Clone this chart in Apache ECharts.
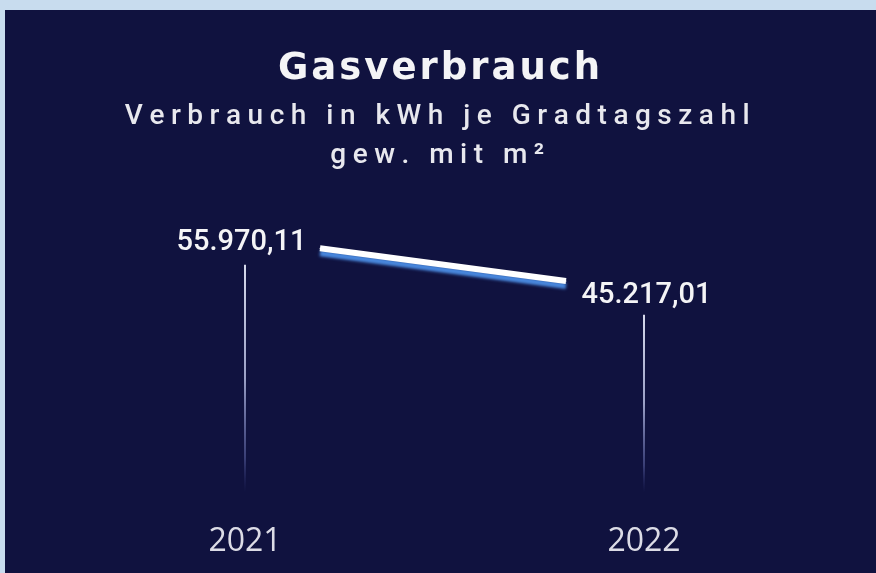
<!DOCTYPE html>
<html>
<head>
<meta charset="utf-8">
<title>Gasverbrauch</title>
<script src="https://cdn.jsdelivr.net/npm/echarts@6/dist/echarts.min.js"></script>
<style>
  html, body { margin: 0; padding: 0; background: #c8dcee; width: 876px; height: 573px; overflow: hidden; }
  #chart { position: absolute; left: 5px; top: 10px; width: 871px; height: 563px; }
</style>
</head>
<body>
<div id="chart"></div>
<script>
// Daten
const years = ['2021', '2022'];
const verbrauch = [55970.11, 45217.01];
const titel = 'Gasverbrauch';
const untertitel = ['Verbrauch in kWh je Gradtagszahl', 'gew. mit m²'];

// 55970.11 -> "55.970,11"
const formatDe = (v) => {
  const parts = v.toFixed(2).split('.');
  const int = parts[0].replace(/\B(?=(\d{3})+(?!\d))/g, '.');
  return int + ',' + parts[1];
};

// Sperrschrift: jedes Zeichen als eigener rich-Token mit etwas Abstand
const spaced = (s, key) => s.split('').map(ch => '{' + key + '|' + ch + '}').join('');

const subStyle = {
  fontWeight: 'normal',
  rich: {
    s: { color: '#e8e8ee', fontSize: 28, fontWeight: 500, fontFamily: 'Roboto', padding: [0, 6.5, 0, 0] }
  }
};

const chart = echarts.init(document.getElementById('chart'));

const options = {
  backgroundColor: '#10123f',
  animation: false,
  title: [
    {
      text: spaced(titel, 't'),
      left: 'center',
      top: 36,
      textStyle: {
        rich: {
          t: { color: '#f4f4f6', fontSize: 37, fontWeight: 'bold', fontFamily: 'DejaVu Sans', padding: [0, 3, 0, 0] }
        }
      }
    },
    {
      text: spaced(untertitel[0], 's'),
      left: 'center',
      top: 88,
      textStyle: subStyle
    },
    {
      text: spaced(untertitel[1], 's'),
      left: 'center',
      top: 127,
      textStyle: subStyle
    }
  ],
  grid: [
    // senkrechte Linien + Jahre
    { left: 240, right: 232, top: 236, bottom: 81 },
    // Verbrauchslinie
    { left: 315, right: 310, top: 226, height: 61 }
  ],
  xAxis: [
    {
      type: 'category',
      gridIndex: 0,
      data: years,
      boundaryGap: false,
      axisLine: { show: false },
      axisTick: { show: false },
      axisLabel: { color: '#dcdce6', fontSize: 32, fontFamily: 'Open Sans', margin: 34 }
    },
    {
      type: 'category',
      gridIndex: 1,
      data: years,
      boundaryGap: false,
      show: false
    }
  ],
  yAxis: [
    { type: 'value', gridIndex: 0, min: 7150, max: 60000, show: false, splitLine: { show: false } },
    { type: 'value', gridIndex: 1, min: 40000, max: 60000, show: false, splitLine: { show: false } }
  ],
  series: [
    {
      type: 'bar',
      xAxisIndex: 0,
      yAxisIndex: 0,
      barWidth: 2,
      silent: true,
      data: verbrauch,
      itemStyle: {
        color: new echarts.graphic.LinearGradient(0, 0, 0, 1, [
          { offset: 0, color: 'rgba(225,228,245,0.95)' },
          { offset: 0.5, color: 'rgba(190,196,232,0.8)' },
          { offset: 0.85, color: 'rgba(120,130,200,0.4)' },
          { offset: 1, color: 'rgba(70,80,160,0)' }
        ])
      }
    },
    {
      type: 'line',
      xAxisIndex: 1,
      yAxisIndex: 1,
      symbol: 'circle',
      symbolSize: 1,
      itemStyle: { color: '#ffffff' },
      lineStyle: {
        color: '#ffffff',
        width: 6,
        shadowColor: '#4a8ae0',
        shadowOffsetY: 5,
        shadowBlur: 3
      },
      label: {
        show: true,
        color: '#f4f4f6',
        fontSize: 29,
        fontWeight: 500,
        fontFamily: 'Roboto',
        formatter: (p) => formatDe(p.value)
      },
      data: verbrauch.map((v, i) => ({
        value: v,
        label: i === 0
          ? { position: 'left', distance: 13, offset: [0, -6] }
          : { position: 'right', distance: 15, offset: [0, 15] }
      }))
    }
  ]
};

chart.setOption(options);
</script>
</body>
</html>
